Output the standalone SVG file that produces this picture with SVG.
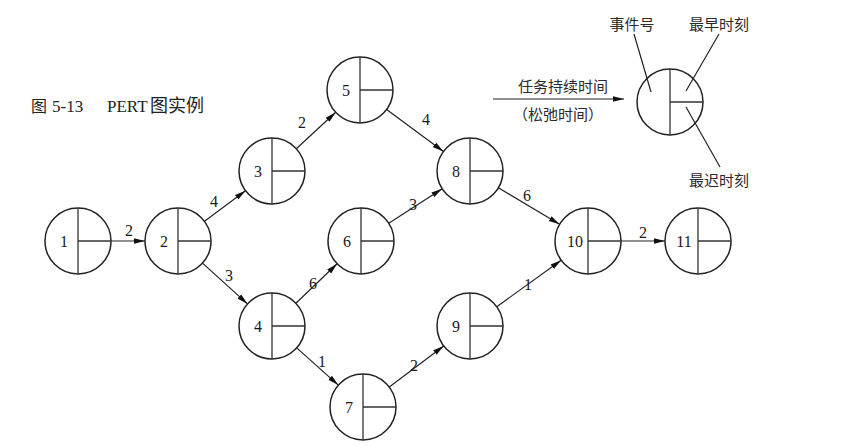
<svg xmlns="http://www.w3.org/2000/svg" width="844" height="446" viewBox="0 0 844 446">
<style>
.c{fill:none;stroke:#222;stroke-width:1.5}
.d{stroke:#333;stroke-width:1.3;fill:none}
.e{stroke:#222;stroke-width:1.2;fill:none}
.n{font-family:"Liberation Serif","Times New Roman",serif;font-size:16px;fill:#1a1a1a;text-anchor:middle}
.t{font-family:"Noto Sans CJK SC","Noto Sans",sans-serif;font-size:15px;fill:#2a2a2a;text-anchor:middle}
.ti{font-family:"Liberation Serif","Noto Sans CJK SC",serif;font-size:17px;fill:#222}
</style>
<defs>
<marker id="a" markerUnits="userSpaceOnUse" markerWidth="12" markerHeight="8" refX="11" refY="4" orient="auto">
<path d="M0,1.2 L11,4 L0,6.8 Z" fill="#111"/>
</marker>
<g id="q">
<circle cx="0" cy="0" r="33" class="c"/>
<path d="M0,-33 V33 M0,0 H33" class="d"/>
</g>
</defs>
<rect width="844" height="446" fill="#fff"/>
<text class="ti" y="112"><tspan x="31" style="font-size:16px">图</tspan><tspan x="52">5-13</tspan><tspan x="107">PERT</tspan><tspan x="150" style="font-size:18px">图实例</tspan></text>
<g id="n1"><use href="#q" x="78" y="241"/><text class="n" x="64" y="247">1</text></g>
<g id="n2"><use href="#q" x="178" y="241"/><text class="n" x="164" y="247">2</text></g>
<g id="n3"><use href="#q" x="272" y="171"/><text class="n" x="258" y="177">3</text></g>
<g id="n4"><use href="#q" x="272" y="326"/><text class="n" x="258" y="332">4</text></g>
<g id="n5"><use href="#q" x="360" y="90"/><text class="n" x="346" y="96">5</text></g>
<g id="n6"><use href="#q" x="361" y="241"/><text class="n" x="347" y="247">6</text></g>
<g id="n7"><use href="#q" x="363" y="407"/><text class="n" x="349" y="413">7</text></g>
<g id="n8"><use href="#q" x="470" y="171"/><text class="n" x="456" y="177">8</text></g>
<g id="n9"><use href="#q" x="470" y="326"/><text class="n" x="456" y="332">9</text></g>
<g id="n10"><use href="#q" x="588" y="241"/><text class="n" x="575" y="247">10</text></g>
<g id="n11"><use href="#q" x="698" y="241"/><text class="n" x="684" y="247">11</text></g>
<g id="connectors">
<line class="e" x1="111" y1="241" x2="145" y2="241" marker-end="url(#a)"/>
<line class="e" x1="204.5" y1="221.3" x2="245.5" y2="190.7" marker-end="url(#a)"/>
<line class="e" x1="202.5" y1="263.1" x2="247.5" y2="303.9" marker-end="url(#a)"/>
<line class="e" x1="296.3" y1="148.7" x2="335.7" y2="112.3" marker-end="url(#a)"/>
<line class="e" x1="386.6" y1="109.6" x2="443.4" y2="151.4" marker-end="url(#a)"/>
<line class="e" x1="295.9" y1="303.2" x2="337.1" y2="263.8" marker-end="url(#a)"/>
<line class="e" x1="388.8" y1="223.2" x2="442.2" y2="188.8" marker-end="url(#a)"/>
<line class="e" x1="296.7" y1="347.9" x2="338.3" y2="385.1" marker-end="url(#a)"/>
<line class="e" x1="389.3" y1="387.1" x2="443.7" y2="345.9" marker-end="url(#a)"/>
<line class="e" x1="498.4" y1="187.8" x2="559.6" y2="224.2" marker-end="url(#a)"/>
<line class="e" x1="496.8" y1="306.7" x2="561.2" y2="260.3" marker-end="url(#a)"/>
<line class="e" x1="621" y1="241" x2="665" y2="241" marker-end="url(#a)"/>
<text class="n" x="129" y="236">2</text>
<text class="n" x="214" y="207">4</text>
<text class="n" x="229" y="281">3</text>
<text class="n" x="302" y="128">2</text>
<text class="n" x="426" y="125">4</text>
<text class="n" x="313" y="289">6</text>
<text class="n" x="413" y="210">3</text>
<text class="n" x="322" y="367">1</text>
<text class="n" x="414" y="371">2</text>
<text class="n" x="527" y="201">6</text>
<text class="n" x="528" y="290">1</text>
<text class="n" x="643" y="238">2</text>
</g>
<g id="legend">
<use href="#q" x="670" y="102"/>
<line class="e" x1="493" y1="99" x2="624" y2="99" marker-end="url(#a)"/>
<text class="t" x="563" y="92">任务持续时间</text>
<text class="t" x="558" y="120">（松弛时间）</text>
<text class="t" x="632" y="30">事件号</text>
<text class="t" x="719" y="30">最早时刻</text>
<text class="t" x="719" y="186">最迟时刻</text>
<line class="e" x1="634" y1="34" x2="651" y2="92"/>
<line class="e" x1="719" y1="34" x2="686" y2="91"/>
<line class="e" x1="686" y1="107" x2="720" y2="167"/>
</g>
</svg>
